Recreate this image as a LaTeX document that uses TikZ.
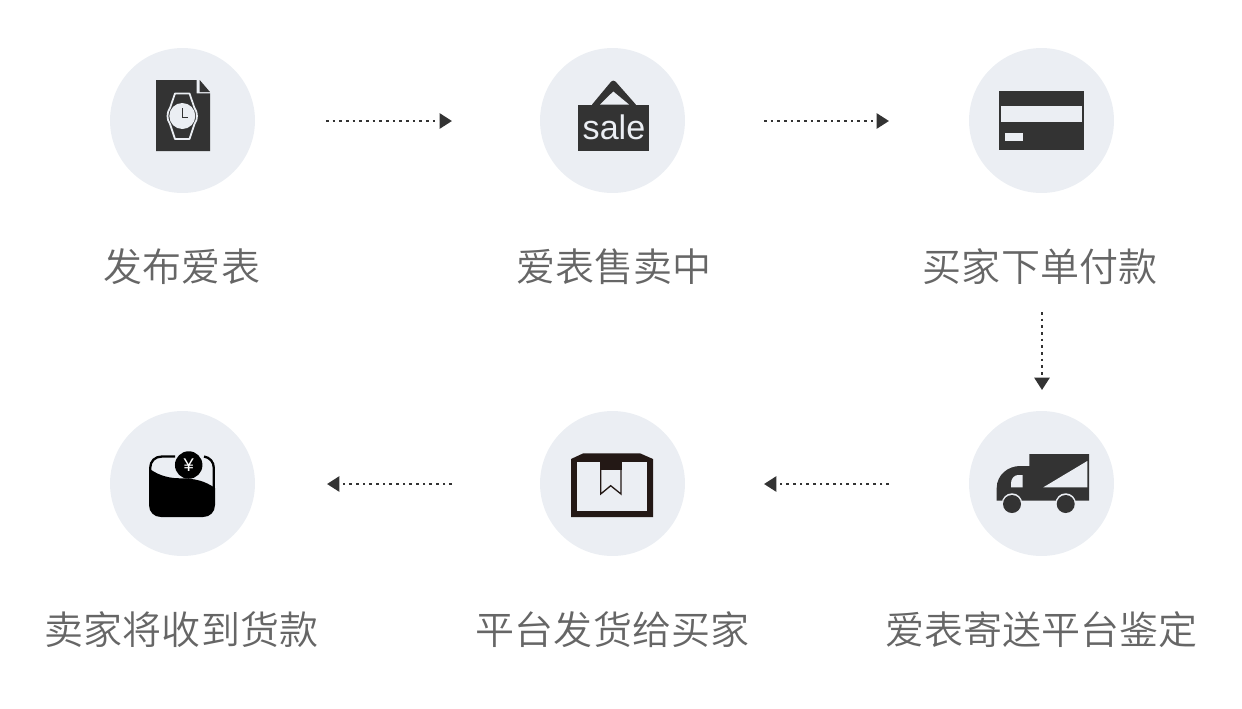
\documentclass[tikz,border=0pt]{standalone}
\usepackage{fontspec}
\setmainfont{Noto Sans CJK SC DemiLight}
\newfontfamily\salefont{Liberation Sans}
\usetikzlibrary{arrows.meta}
\definecolor{dotgray}{HTML}{333333}
\definecolor{disc}{HTML}{EBEEF3}
\definecolor{captiongray}{HTML}{666666}
\definecolor{boxdark}{HTML}{231815}
\tikzset{
  roundel/.style={circle,fill=disc,minimum size=2.9cm,inner sep=0pt},
  caption/.style={text=captiongray,inner sep=0pt,font=\fontsize{22.2}{26}\selectfont},
  flow/.style={draw=dotgray,line width=1.5pt,dash pattern=on 1.5pt off 2.3pt,-{Triangle[length=7pt,width=8.5pt,fill=dotgray]}},
  dark/.style={fill=dotgray,draw=none},
  light/.style={fill=disc,draw=none}
}
\begin{document}
\begin{tikzpicture}[x=0.02cm,y=-0.02cm]
    \useasboundingbox (0,0) rectangle (1242,708);
    \node [roundel] (c1) at (182.5,120.5) {};
    \node [roundel] (c2) at (612.5,120.5) {};
    \node [roundel] (c3) at (1041.5,120.5) {};
    \node [roundel] (c4) at (1041.5,483.5) {};
    \node [roundel] (c5) at (612.5,483.5) {};
    \node [roundel] (c6) at (182.5,483.5) {};
    \node [caption] (t1) at (182,266.5) {发布爱表};
    \node [caption] (t2) at (614,266.5) {爱表售卖中};
    \node [caption] (t3) at (1040,266.5) {买家下单付款};
    \node [caption] (t4) at (1041.5,629.5) {爱表寄送平台鉴定};
    \node [caption] (t5) at (612.5,629.5) {平台发货给买家};
    \node [caption] (t6) at (181.5,629.5) {卖家将收到货款};
    % arrow ends
    \coordinate (a1) at (326,121);
    \coordinate (b1) at (452,121);
    \coordinate (a2) at (764,121);
    \coordinate (b2) at (889,121);
    \coordinate (a3) at (1042,312);
    \coordinate (b3) at (1042,390);
    \coordinate (a4) at (889,484);
    \coordinate (b4) at (764,484);
    \coordinate (a5) at (452,484);
    \coordinate (b5) at (327,484);
    \draw [flow] (a1) -- (b1);
    \draw [flow] (a2) -- (b2);
    \draw [flow] (a3) -- (b3);
    \draw [flow] (a4) -- (b4);
    \draw [flow] (a5) -- (b5);
    % watch sheet
    \fill [dark] (156,80) -- (196.7,80) -- (196.7,93.3) -- (210,93.3) -- (210,151) -- (156,151) -- cycle;
    \fill [dark] (199.7,80) -- (210,92) -- (199.7,92) -- cycle;
    \draw [disc,line width=1pt,line join=round] (175,93.5) -- (189.5,93.5) -- (194.5,108) .. controls (196.5,111) and (197,114) .. (197,116) .. controls (197,119) and (196.5,121) .. (194.5,124) -- (189.5,139) -- (175,139) -- (170,124) .. controls (168,121) and (167.5,119) .. (167.5,116) .. controls (167.5,114) and (168,111) .. (170,108) -- cycle;
    \node [circle,fill=disc,minimum size=0.52cm,inner sep=0pt] (face) at (182.3,116) {};
    \draw [dotgray,line width=0.85pt] (182.7,108.3) -- (182.7,117.3) -- (188.3,117.3);
    % sale sign
    \fill [dark] (578,105) rectangle (649,151);
    \fill [dark,rounded corners=2pt] (590,107) -- (613.3,79) -- (638,107) -- cycle;
    \fill [light] (613.3,91.5) -- (629,104.5) -- (600,104.5) -- cycle;
    \node [text=disc,inner sep=0pt,font=\salefont\fontsize{19.4}{20}\selectfont] (sale) at (614,127.5) {sale};
    % card
    \fill [dark] (999,91) rectangle (1084,150);
    \fill [light] (1001,106) rectangle (1082,122);
    \fill [light] (1005,132.5) rectangle (1022.5,141);
    % truck
    \fill [dark] (1029.3,454) -- (1089,454) -- (1089,500.7) -- (996.7,500.7) -- (996.7,488) .. controls (996.7,475) and (1008,466) .. (1020,466) -- (1029.3,466) -- cycle;
    \fill [light] (1011,487.3) -- (1011,483.3) .. controls (1011,479) and (1014,475) .. (1018,475) -- (1022.7,475) -- (1022.7,487.3) -- cycle;
    \fill [light] (1043.3,487.3) -- (1087.3,461) -- (1087.3,487.3) -- cycle;
    \node [circle,fill=disc,minimum size=0.41cm,inner sep=0pt] (r1) at (1012,503.5) {};
    \node [circle,fill=disc,minimum size=0.41cm,inner sep=0pt] (r2) at (1065.7,503.5) {};
    \node [circle,fill=dotgray,minimum size=0.36cm,inner sep=0pt] (w1) at (1012,504) {};
    \node [circle,fill=dotgray,minimum size=0.36cm,inner sep=0pt] (w2) at (1065.7,504) {};
    % parcel
    \fill [boxdark] (583.3,453.3) -- (640,453.3) -- (653,459) -- (653,517) -- (571,517) -- (571,459) -- cycle;
    \fill [light] (577.3,462.3) rectangle (646.7,510.7);
    \fill [boxdark] (600,462.3) rectangle (621.7,470);
    \draw [boxdark,line width=0.75pt] (600.7,470) -- (600.7,494) -- (610.7,485.7) -- (621,494) -- (621,470);
    % wallet
    \fill [black] (149,468.3) .. controls (155,473) and (165,478.3) .. (180,478.3) .. controls (195,478.3) and (205,481) .. (215,488) -- (215,505) .. controls (215,512) and (210,517) .. (203,517) -- (161,517) .. controls (154,517) and (149,512) .. (149,505) -- cycle;
    \draw [black,line width=1.3pt] (175,456.5) -- (162,456.5) .. controls (155,456.5) and (150.2,461) .. (150.2,468) -- (150.2,475);
    \draw [black,line width=1.3pt] (204,456.5) .. controls (210,457.5) and (213.8,462) .. (213.8,468) -- (213.8,488);
    \node [circle,fill=black,minimum size=0.55cm,inner sep=0pt,text=white,font=\salefont\fontsize{10.5}{11}\selectfont] (coin) at (188.7,465) {¥};
\end{tikzpicture}
\end{document}
